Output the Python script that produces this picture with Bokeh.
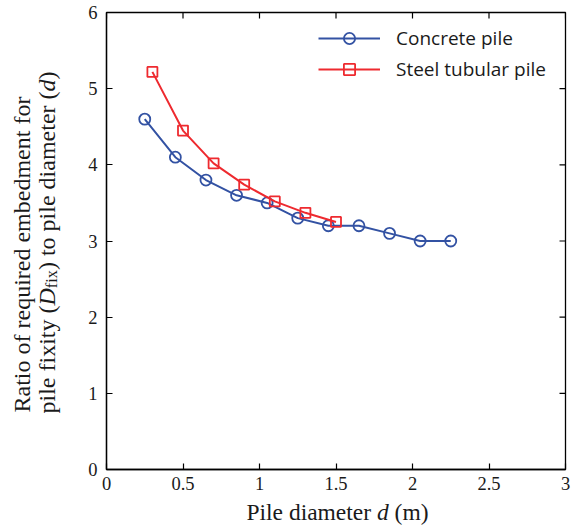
import math
from bokeh.plotting import figure
from bokeh.models import Range1d, FixedTicker, Label
from bokeh.layouts import row, column
from bokeh.embed import file_html
from bokeh.resources import INLINE

# ---- data ----
concrete_d = [0.25, 0.45, 0.65, 0.85, 1.05, 1.25, 1.45, 1.65, 1.85, 2.05, 2.25]
concrete_ratio = [4.6, 4.1, 3.8, 3.6, 3.5, 3.3, 3.2, 3.2, 3.1, 3.0, 3.0]
steel_d = [0.3, 0.5, 0.7, 0.9, 1.1, 1.3, 1.5]
steel_ratio = [5.22, 4.45, 4.02, 3.74, 3.52, 3.37, 3.25]
x_ticks = [0, 0.5, 1, 1.5, 2, 2.5, 3]
x_tick_labels = ["0", "0.5", "1", "1.5", "2", "2.5", "3"]
y_ticks = [0, 1, 2, 3, 4, 5, 6]
y_tick_labels = ["0", "1", "2", "3", "4", "5", "6"]
series_names = ["Concrete pile", "Steel tubular pile"]
x_min, x_max = 0, 3
y_min, y_max = 0, 6

# ---- layout constants ----
W, H = 578, 529
YLAB_W = 66            # strip holding the y-axis title
XLAB_H = 29            # strip holding the x-axis title
MAIN_W = W - YLAB_W
MAIN_H = H - XLAB_H
FL, FR, FT, FB = 106 - YLAB_W, 13, 12, MAIN_H - 469
BLUE = "#3352A3"
RED = "#EE2A2F"
TXT = "#1a1a1a"
SERIF = "Liberation Serif"
TICK = 6

p = figure(width=MAIN_W, height=MAIN_H, x_range=Range1d(x_min, x_max), y_range=Range1d(y_min, y_max),
           output_backend="svg", toolbar_location=None,
           min_border_left=FL, min_border_right=FR, min_border_top=FT, min_border_bottom=FB)
p.grid.visible = False
p.outline_line_color = "black"
p.outline_line_width = 1.3
p.background_fill_color = "white"
p.border_fill_color = "white"

def style_axis(ax, ticks, labels, standoff):
    ax.ticker = FixedTicker(ticks=ticks)
    ax.major_label_overrides = {t: l for t, l in zip(ticks, labels)}
    ax.minor_tick_line_color = None
    ax.major_tick_in = TICK
    ax.major_tick_out = 0
    ax.major_tick_line_width = 1.2
    ax.major_tick_line_color = "black"
    ax.axis_line_color = "black"
    ax.axis_line_width = 1.3
    ax.major_label_text_font = SERIF
    ax.major_label_text_font_size = "18.5px"
    ax.major_label_text_color = TXT
    ax.major_label_standoff = standoff

style_axis(p.xaxis[0], x_ticks, x_tick_labels, 7)
style_axis(p.yaxis[0], y_ticks, y_tick_labels, 9)

# mirrored inward ticks on the top and right edges of the box
p.ray(x=x_ticks, y=[y_max] * len(x_ticks), length=TICK, length_units="screen",
      angle=-math.pi / 2, line_color="black", line_width=1.2)
p.ray(x=[x_max] * len(y_ticks), y=y_ticks, length=TICK, length_units="screen",
      angle=math.pi, line_color="black", line_width=1.2)

# ---- series ----
p.line(concrete_d, concrete_ratio, line_color=BLUE, line_width=2, legend_label=series_names[0])
p.scatter(concrete_d, concrete_ratio, marker="circle", size=11, line_color=BLUE, line_width=1.8,
          fill_alpha=0, legend_label=series_names[0])
p.line(steel_d, steel_ratio, line_color=RED, line_width=2, legend_label=series_names[1])
p.scatter(steel_d, steel_ratio, marker="square", size=10, line_color=RED, line_width=1.8,
          fill_alpha=0, legend_label=series_names[1])

lg = p.legend[0]
lg.location = (212, 386)
lg.glyph_width = 62
lg.glyph_height = 28
lg.label_height = 28
lg.spacing = 3
lg.padding = 0
lg.margin = 0
lg.label_standoff = 16
lg.border_line_alpha = 0
lg.background_fill_alpha = 0
lg.label_text_font = "Open Sans"
lg.label_text_font_size = "19px"
lg.label_text_color = TXT

# ---- axis titles (mixed roman / italic) in their own strips ----
def text_strip(w, h):
    f = figure(width=w, height=h, x_range=Range1d(0, w), y_range=Range1d(0, h),
               output_backend="svg", toolbar_location=None, x_axis_type=None, y_axis_type=None,
               min_border=0, outline_line_color=None)
    f.grid.visible = False
    f.background_fill_color = "white"
    f.border_fill_color = "white"
    return f

TNR = {' ': 250, '(': 333, ')': 333, 'a': 444, 'b': 500, 'c': 444, 'd': 500, 'e': 444,
       'f': 333, 'i': 278, 'l': 278, 'm': 778, 'n': 500, 'o': 500, 'p': 500, 'q': 500,
       'r': 333, 't': 278, 'u': 500, 'x': 500, 'y': 500, 'P': 556, 'R': 667, 'D': 722}

def tw(s, size):
    return sum(TNR.get(c, 500) for c in s) / 1000.0 * size

# empirical corrections for where the renderer puts the label anchor
V_ALONG = 30         # rotated titles, along the text
PERP = 0.335         # times font size, across the text

def add_pieces(f, fh, pieces, x0, y0, vertical, base):
    """x0, y0: baseline start in strip pixels from its top-left corner."""
    pos = 0.0
    for text, style, size, shift in pieces:
        lead = len(text) - len(text.lstrip(' '))
        stripped = text.strip(' ')
        off = pos + tw(' ' * lead, size)
        if vertical:
            X, Y = x0 + shift - PERP * base, y0 - off + V_ALONG
        else:
            X, Y = x0 + off, y0 + shift - PERP * base
        f.add_layout(Label(x=X, y=fh - Y, x_units="screen", y_units="screen",
                           text=stripped, angle=math.pi / 2 if vertical else 0,
                           text_align="left", text_baseline="alphabetic",
                           text_font=SERIF, text_font_style=style,
                           text_font_size=f"{size:.1f}px", text_color=TXT))
        pos += tw(text, size)

ylab = text_strip(YLAB_W, MAIN_H)
YS = 24
ylabel1 = [("Ratio of required embedment for", "normal", YS, 0)]
ylabel2 = [("pile fixity (", "normal", YS, 0), ("D", "italic", YS, 0),
           ("fix", "normal", YS * 0.68, 4), (") to pile diameter (", "normal", YS, 0),
           ("d", "italic", YS, 0), (")", "normal", YS, 0)]
add_pieces(ylab, MAIN_H, ylabel1, 30, 413, True, YS)
add_pieces(ylab, MAIN_H, ylabel2, 55, 414, True, YS)

xlab = text_strip(W, XLAB_H)
XS = 23.5
xlabel = [("Pile diameter ", "normal", XS, 0), ("d", "italic", XS, 0), (" (m)", "normal", XS, 0)]
xw = sum(tw(t, s) for t, _, s, _ in xlabel)
add_pieces(xlab, XLAB_H, xlabel, 337 - xw / 2, 519 - MAIN_H, False, XS)

layout = column(row(ylab, p, spacing=0), xlab, spacing=0)
open("out.html", "w").write(file_html(layout, INLINE))
